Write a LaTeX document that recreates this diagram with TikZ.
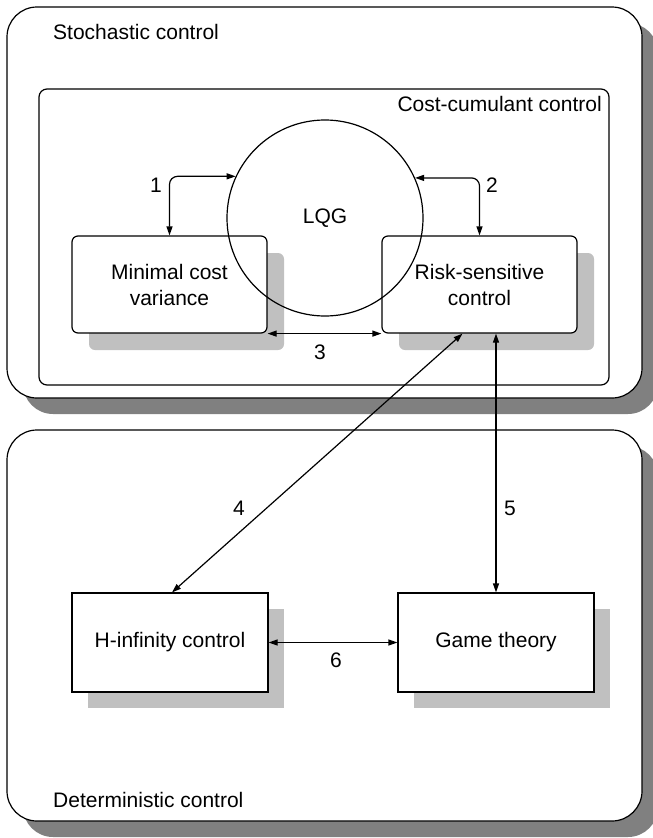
\documentclass[tikz,border=0pt]{standalone}
\usepackage{fontspec}
\setmainfont{Liberation Sans}
\usetikzlibrary{arrows.meta,shadows}
\definecolor{shadowdark}{HTML}{808080}
\definecolor{shadowlight}{HTML}{C0C0C0}
\tikzset{
  bigbox/.style={draw=black, line width=1.2pt, fill=white, rounded corners=30pt,
    inner sep=0pt, general shadow={shadow xshift=16pt, shadow yshift=-16pt, fill=shadowdark}},
  innerbox/.style={draw=black, line width=1.2pt, fill=white, rounded corners=8pt, inner sep=0pt},
  roundbox/.style={draw=black, line width=1.2pt, fill=white, rounded corners=6pt,
    inner sep=0pt, align=center, font=\txt,
    general shadow={shadow xshift=17pt, shadow yshift=-17pt, fill=shadowlight}},
  sqbox/.style={draw=black, line width=1.2pt, fill=white,
    inner sep=0pt, align=center, font=\txt,
    general shadow={shadow xshift=16pt, shadow yshift=-16pt, fill=shadowlight}},
  conn/.style={line width=1.2pt, {Triangle[length=9pt,width=6pt]}-{Triangle[length=9pt,width=6pt]}},
  lbl/.style={font=\txt, inner sep=0pt}
}
\newcommand{\txt}{\fontsize{21}{26}\selectfont}
\begin{document}
\begin{tikzpicture}[x=1pt,y=-1pt]
\useasboundingbox (0,0) rectangle (653,838);
\clip (0,0) rectangle (653,838);
% outer boxes
\node[bigbox, minimum width=635pt, minimum height=391pt] (stoch) at (324.5,202.5) {};
\node[bigbox, minimum width=635pt, minimum height=391pt] (det) at (324.5,625.5) {};
% inner box
\node[innerbox, minimum width=570pt, minimum height=296pt] (ccc) at (324,237) {};
% labels of regions
\node[lbl, anchor=west] (stochlbl) at (53,32) {Stochastic control};
\node[lbl, anchor=west] (detlbl) at (53,800) {Deterministic control};
\node[lbl, anchor=east] (ccclbl) at (602,104) {Cost-cumulant control};
% boxes
\node[roundbox, minimum width=195pt, minimum height=97pt] (mcv) at (169.5,284.5) {Minimal cost\\variance};
\node[roundbox, minimum width=195pt, minimum height=97pt] (rsc) at (479.5,284.5) {Risk-sensitive\\control};
\node[sqbox, minimum width=196pt, minimum height=99pt] (hinf) at (170,642.5) {H-infinity control};
\node[sqbox, minimum width=196pt, minimum height=99pt] (game) at (496,642.5) {Game theory};
% circle
\node[circle, draw=black, line width=1.2pt, minimum size=196pt, inner sep=0pt, font=\txt] (lqg) at (325,218) {LQG};
% connectors
\draw[conn, rounded corners=8pt] (lqg.155.9) -| (mcv.north);
\draw[conn, rounded corners=8pt] (lqg.24.1) -| (rsc.north);
\draw[conn] (mcv.south east) -- (rsc.south west);
\draw[conn] ([xshift=-17pt]rsc.south) -- ([xshift=2pt]hinf.north);
\draw[conn] (game.north) -- (game.north |- rsc.south);
\draw[conn] (hinf.east) -- (game.west);
% numbers
\node[lbl] (n1) at (156,185) {1};
\node[lbl] (n2) at (492,185) {2};
\node[lbl] (n3) at (320,352) {3};
\node[lbl] (n4) at (239,508) {4};
\node[lbl] (n5) at (510,508) {5};
\node[lbl] (n6) at (336,660) {6};
\end{tikzpicture}
\end{document}
